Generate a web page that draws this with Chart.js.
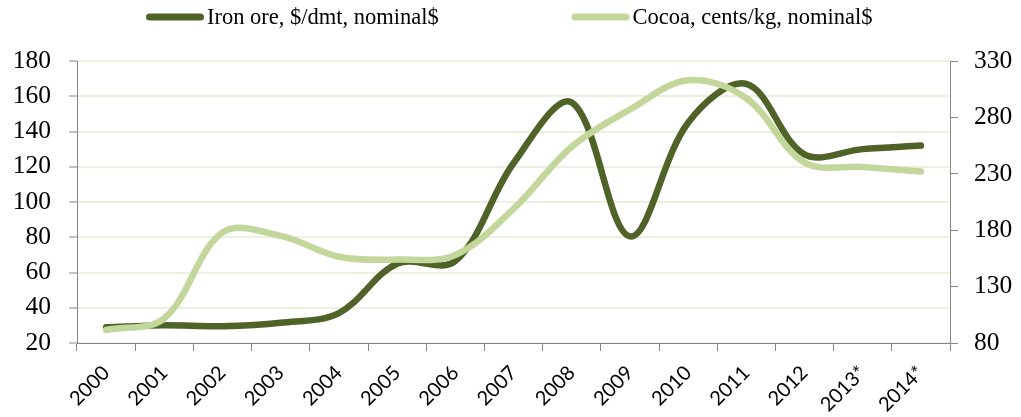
<!DOCTYPE html>
<html>
<head>
<meta charset="utf-8">
<script src="https://cdn.jsdelivr.net/npm/chart.js@4.4.1/dist/chart.umd.min.js"></script>
<style>
  html, body { margin: 0; padding: 0; background: #ffffff; }
  #wrap { width: 1021px; height: 417px; }
</style>
</head>
<body>
<div id="wrap"><canvas id="c" width="1021" height="417"></canvas></div>
<script>
const categories = ['2000','2001','2002','2003','2004','2005','2006','2007','2008','2009','2010','2011','2012','2013*','2014*'];
const ironOre = [29, 30, 29.5, 31.5, 37, 65, 66.5, 122, 156.5, 80.5, 145, 167, 127, 130, 132];
const cocoa = [91.5, 102, 178, 175, 156.5, 154, 158, 199, 254, 287, 313, 297, 240, 236, 232];
const seriesLabels = ['Iron ore, $/dmt, nominal$', 'Cocoa, cents/kg, nominal$'];
const seriesColors = ['#4f6228', '#c3d69b'];
const leftRange = [20, 180, 20];
const rightRange = [80, 330, 50];

const axisGray = '#868686';
const gridColor = '#ecf0df';

const legendPlugin = {
  id: 'lineLegend',
  afterDraw(chart) {
    const ctx = chart.ctx;
    const starts = [146, 571.5];
    const y = 17;
    ctx.save();
    ctx.font = '22.5px "Liberation Serif"';
    ctx.textBaseline = 'middle';
    ctx.textAlign = 'left';
    chart.data.datasets.forEach((ds, i) => {
      const x0 = starts[i];
      ctx.strokeStyle = ds.borderColor;
      ctx.lineWidth = 7;
      ctx.lineCap = 'round';
      ctx.beginPath();
      ctx.moveTo(x0 + 3.5, y);
      ctx.lineTo(x0 + 54.5, y);
      ctx.stroke();
      ctx.fillStyle = '#000000';
      ctx.fillText(ds.label, x0 + 61, y + 1);
    });
    ctx.restore();
  }
};

new Chart(document.getElementById('c'), {
  type: 'line',
  data: {
    labels: categories,
    datasets: [
      {
        label: seriesLabels[0],
        data: ironOre,
        yAxisID: 'y',
        borderColor: seriesColors[0],
        backgroundColor: seriesColors[0],
        borderWidth: 6.5,
        pointRadius: 0,
        pointHoverRadius: 0,
        tension: 0.35,
        borderCapStyle: 'round',
        borderJoinStyle: 'round',
        fill: false,
        order: 1
      },
      {
        label: seriesLabels[1],
        data: cocoa,
        yAxisID: 'y1',
        borderColor: seriesColors[1],
        backgroundColor: seriesColors[1],
        borderWidth: 6.5,
        pointRadius: 0,
        pointHoverRadius: 0,
        tension: 0.35,
        borderCapStyle: 'round',
        borderJoinStyle: 'round',
        fill: false,
        order: 0
      }
    ]
  },
  options: {
    responsive: false,
    animation: false,
    devicePixelRatio: 1,
    layout: { padding: { top: 61, left: 0, right: 0, bottom: 0 } },
    plugins: {
      legend: { display: false },
      tooltip: { enabled: false }
    },
    scales: {
      x: {
        type: 'category',
        offset: true,
        grid: {
          offset: true,
          drawOnChartArea: false,
          drawTicks: true,
          tickLength: 8,
          color: axisGray,
          tickColor: axisGray
        },
        border: { color: axisGray, width: 1 },
        ticks: {
          autoSkip: false,
          minRotation: 45,
          maxRotation: 45,
          padding: 10,
          color: '#000000',
          font: { family: 'Lato', size: 20 }
        },
        afterFit(s) { s.height = 74; }
      },
      y: {
        position: 'left',
        min: leftRange[0],
        max: leftRange[1],
        ticks: {
          stepSize: leftRange[2],
          padding: 18,
          color: '#000000',
          font: { family: 'Liberation Serif', size: 25.5 }
        },
        grid: {
          color: gridColor,
          lineWidth: 2,
          tickColor: axisGray,
          tickLength: 8,
          tickWidth: 1
        },
        border: { color: axisGray, width: 1 },
        afterFit(s) { s.width = 77; }
      },
      y1: {
        position: 'right',
        min: rightRange[0],
        max: rightRange[1],
        ticks: {
          stepSize: rightRange[2],
          padding: 16,
          color: '#000000',
          font: { family: 'Liberation Serif', size: 25.5 }
        },
        grid: {
          drawOnChartArea: false,
          tickColor: axisGray,
          tickLength: 8,
          tickWidth: 1
        },
        border: { color: axisGray, width: 1 },
        afterFit(s) { s.width = 71; }
      }
    }
  },
  plugins: [legendPlugin]
});
</script>
</body>
</html>
